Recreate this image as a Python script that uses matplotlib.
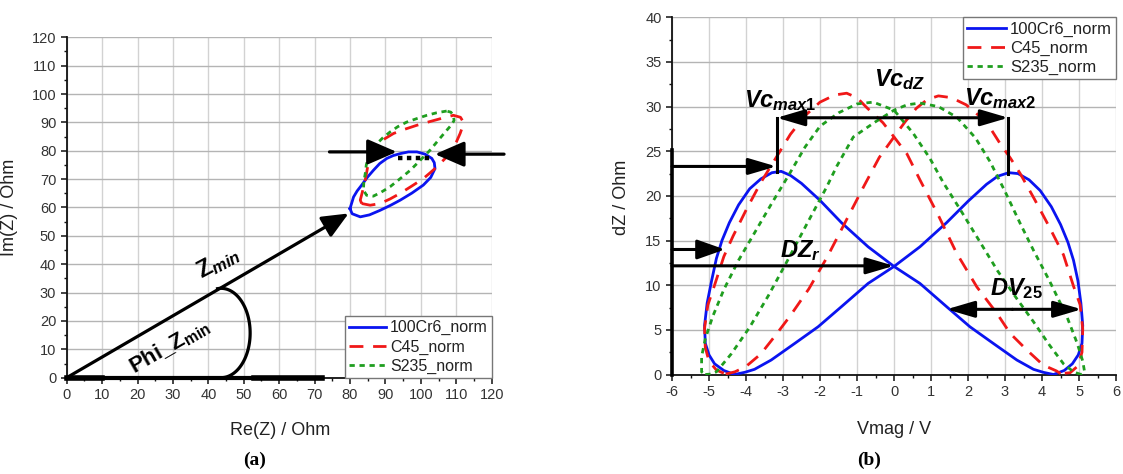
"""
Impedance loop (Nyquist) and butterfly dZ(Vmag) curves for three steels,
with the feature annotations used for the evaluation (Zmin, Phi_Zmin, Vc, DZr, DV25).
"""
import numpy as np
import matplotlib
matplotlib.use('Agg')
import matplotlib.pyplot as plt
from matplotlib.ticker import MultipleLocator

plt.rcParams['font.family'] = ['Liberation Sans', 'DejaVu Sans']
plt.rcParams['axes.unicode_minus'] = False
plt.rcParams['mathtext.fontset'] = 'custom'
plt.rcParams['mathtext.rm'] = 'Liberation Sans:bold'
plt.rcParams['mathtext.it'] = 'Liberation Sans:italic:bold'
plt.rcParams['mathtext.bf'] = 'Liberation Sans:bold'

LABELS = ['100Cr6_norm', 'C45_norm', 'S235_norm']
COLORS = ['#0a14f0', '#f01818', '#1f9e1f']
DASHES = [None, (5.0, 3.5), (1.9, 1.7)]

# --- (a) Re(Z) / Im(Z) loops -------------------------------------------------
re_100cr6 = [80.0, 80.6, 82.9, 85.5, 88.5, 91.5, 94.2, 97.5, 100.7, 102.8, 104.0, 103.8,
             103.1, 101.2, 98.9, 96.5, 94.2, 92.2, 90.4, 88.4, 86.6, 84.8, 83.3, 82.0, 81.0, 80.0]
im_100cr6 = [59.6, 57.8, 56.7, 57.4, 59.0, 60.8, 62.6, 65.1, 67.9, 70.6, 73.7, 75.8,
             77.3, 78.8, 79.6, 79.6, 79.0, 78.3, 77.3, 75.5, 73.1, 70.5, 67.9, 65.8, 63.7, 59.6]

re_c45 = [83.3, 82.9, 83.6, 84.3, 84.8, 85.2, 85.7, 87.1, 89.5, 92.3, 95.5, 98.9, 102.3, 105.5,
          109.2, 111.2, 112.0, 111.7, 111.1, 110.0, 108.8, 106.8, 104.5, 102.6, 100.7, 97.5,
          94.2, 91.3, 88.5, 85.7, 83.3]
im_c45 = [61.4, 62.6, 66.0, 69.6, 73.0, 76.1, 77.8, 81.3, 84.0, 86.1, 87.6, 89.0, 90.2, 91.3,
          92.5, 91.8, 90.1, 88.2, 86.1, 83.0, 80.2, 77.2, 74.3, 72.2, 70.2, 67.6,
          65.0, 63.0, 61.4, 60.8, 61.4]

re_s235 = [107.3, 104.5, 101.7, 99.0, 96.0, 93.5, 91.3, 89.3, 87.6, 86.2, 85.2, 84.6, 84.3, 83.9,
           83.8, 84.7, 86.6, 88.8, 91.3, 94.2, 97.0, 99.8, 102.6, 105.0, 107.3, 108.7, 109.4,
           109.2, 108.5, 107.3]
im_s235 = [94.0, 93.4, 92.5, 91.4, 90.1, 88.5, 86.6, 84.6, 82.5, 80.2, 77.8, 75.0, 71.9, 69.0,
           66.1, 64.3, 64.0, 65.4, 67.3, 70.2, 73.1, 76.6, 80.2, 83.8, 87.2, 89.2, 90.7,
           92.4, 93.6, 94.0]

# --- (b) dZ over Vmag, both sweep directions --------------------------------
v_100cr6_up = [-4.31, -4.03, -3.77, -3.32, -2.68, -2.05, -1.42, -0.70, 0.0, 0.70, 1.42, 2.0,
               2.5, 2.8, 3.1, 3.35, 3.65, 3.95, 4.25, 4.5, 4.7, 4.85, 4.97, 5.05, 5.1, 5.08,
               4.98, 4.82, 4.6, 4.31]
dz_100cr6_up = [0.0, 0.25, 0.58, 1.62, 3.49, 5.35, 7.6, 10.2, 12.1, 14.3, 17.0, 19.4,
                21.3, 22.2, 22.6, 22.5, 21.8, 20.6, 18.8, 16.8, 14.8, 12.8, 10.5, 8.0, 5.5, 3.5,
                2.2, 1.2, 0.45, 0.0]
v_100cr6_down = [4.31, 4.03, 3.77, 3.32, 2.68, 2.05, 1.42, 0.70, 0.0, -0.70, -1.42, -2.0,
                 -2.5, -2.8, -3.05, -3.3, -3.6, -3.9, -4.2, -4.45, -4.65, -4.8, -4.93, -5.05,
                 -5.12, -5.1, -5.0, -4.85, -4.6, -4.31]
dz_100cr6_down = [0.0, 0.25, 0.58, 1.62, 3.49, 5.35, 7.6, 10.2, 12.1, 14.3, 17.0, 19.5,
                  21.4, 22.3, 22.75, 22.6, 21.9, 20.8, 19.0, 17.0, 15.0, 13.0, 10.5, 8.0,
                  5.5, 3.5, 2.2, 1.2, 0.45, 0.0]

v_c45_up = [-4.55, -4.3, -4.0, -3.6, -3.2, -2.8, -2.3, -1.8, -1.3, -0.8, -0.4, 0.0, 0.3, 0.6,
            0.9, 1.2, 1.55, 1.95, 2.32, 2.6, 2.86, 3.15, 3.41, 3.8, 4.2, 4.58, 4.85, 5.03, 5.1,
            5.08, 4.98, 4.76, 4.5]
dz_c45_up = [0.05, 0.3, 0.9, 2.3, 4.4, 6.6, 9.6, 13.2, 17.2, 21.2, 24.3, 26.6, 28.3, 29.8,
             30.8, 31.2, 31.0, 30.2, 28.9, 27.6, 25.9, 24.2, 22.5, 19.6, 16.5, 13.4, 9.9, 7.8, 5.1,
             2.5, 1.0, 0.2, 0.1]
v_c45_down = [4.5, 4.39, 4.03, 3.59, 3.14, 2.78, 2.24, 1.69, 1.2, 0.70, 0.35, 0.0, -0.3, -0.74,
              -1.0, -1.28, -1.6, -2.0, -2.4, -2.8, -3.2, -3.6, -4.0, -4.35, -4.6, -4.85, -5.03,
              -5.12, -5.1, -5.0, -4.8, -4.55]
dz_c45_down = [0.1, 0.4, 1.06, 2.74, 4.6, 6.85, 9.8, 13.6, 17.8, 21.8, 24.7, 26.6, 28.2, 29.9,
               31.0, 31.5, 31.3, 30.5, 29.0, 26.9, 24.2, 21.5, 18.4, 15.5, 13.2, 10.0, 7.8,
               5.2, 3.0, 1.5, 0.5, 0.05]

v_s235_up = [-5.1, -4.95, -4.8, -4.4, -3.9, -3.4, -2.9, -2.35, -1.82, -1.55, -1.1, -0.5, 0.0,
             0.35, 0.7, 1.2, 1.7, 2.2, 2.6, 3.0, 3.4, 3.77, 4.2, 4.67, 4.95, 5.1, 5.15, 5.05]
dz_s235_up = [0.0, 0.05, 0.3, 2.3, 5.3, 8.8, 12.6, 16.9, 21.0, 23.3, 26.6, 28.3, 29.6,
              30.2, 30.4, 30.0, 28.8, 26.5, 23.8, 20.5, 17.0, 13.9, 10.5, 6.5, 3.5, 1.5, 0.3, 0.0]
v_s235_down = [5.05, 4.85, 4.58, 4.2, 3.77, 3.3, 2.8, 2.3, 1.8, 1.33, 0.97, 0.52, 0.0, -0.56,
               -1.0, -1.5, -2.0, -2.4, -2.85, -3.3, -3.75, -4.2, -4.6, -4.9, -5.1, -5.2, -5.2,
               -5.1]
dz_s235_down = [0.0, 0.3, 1.2, 3.3, 5.9, 8.6, 11.6, 15.0, 18.4, 21.5, 24.2, 27.0, 29.6, 30.5,
                30.3, 29.3, 27.8, 25.5, 22.3, 19.2, 16.0, 12.8, 9.5, 6.5, 4.0, 2.0, 0.3, 0.0]

loops_a = [(re_100cr6, im_100cr6), (re_c45, im_c45), (re_s235, im_s235)]
loops_b = [
    ((v_100cr6_up, dz_100cr6_up), (v_100cr6_down, dz_100cr6_down)),
    ((v_c45_up, dz_c45_up), (v_c45_down, dz_c45_down)),
    ((v_s235_up, dz_s235_up), (v_s235_down, dz_s235_down)),
]


def style_axes(ax, xmaj, xmin, ymaj, ymin):
    for side in ('top', 'right'):
        ax.spines[side].set_visible(False)
    for side in ('left', 'bottom'):
        ax.spines[side].set_linewidth(1.3)
        ax.spines[side].set_color('#111111')
    ax.xaxis.set_major_locator(MultipleLocator(xmaj))
    ax.xaxis.set_minor_locator(MultipleLocator(xmin))
    ax.yaxis.set_major_locator(MultipleLocator(ymaj))
    ax.yaxis.set_minor_locator(MultipleLocator(ymin))
    ax.tick_params(which='major', direction='out', length=4.5, width=1.1,
                   labelsize=10.5, colors='#111111', labelcolor='#333333', pad=3)
    ax.tick_params(which='minor', direction='out', length=2.5, width=1.0, colors='#111111')
    ax.xaxis.grid(True, which='major', color='#d2d2d2', lw=1.0)
    ax.yaxis.grid(True, which='major', color='#b4b4b4', lw=1.0)
    ax.set_axisbelow(True)


def arrow(ax, start, tip, style='-|>', hl=1.7, hw=0.5, lw=2.2):
    ax.annotate('', xy=tip, xytext=start, annotation_clip=False,
                arrowprops=dict(arrowstyle=f'{style},head_length={hl},head_width={hw}',
                                mutation_scale=10, lw=lw, color='black',
                                shrinkA=0, shrinkB=0))


def add_legend(ax, handles, loc, anchor, fontsize):
    leg = ax.legend(handles, LABELS, loc=loc, bbox_to_anchor=anchor, borderaxespad=0,
                    fontsize=fontsize, handlelength=2.3, handletextpad=0.25,
                    labelspacing=0.25, borderpad=0.25, fancybox=False, framealpha=1)
    leg.get_frame().set_edgecolor('#777777')
    leg.get_frame().set_linewidth(1.0)
    for t in leg.get_texts():
        t.set_color('#222222')


fig = plt.figure(figsize=(11.23, 4.74), dpi=100)
fig.patch.set_facecolor('white')

# ---------------- (a) ----------------
ax1 = fig.add_axes([0.0594, 0.2032, 0.3784, 0.7181])
style_axes(ax1, 10, 5, 10, 5)
ax1.set_xlim(0, 120)
ax1.set_ylim(0, 120)

handles = []
for (x, y), color, dash in zip(loops_a, COLORS, DASHES):
    line, = ax1.plot(x, y, color=color, lw=2.0, zorder=3)
    if dash:
        line.set_dashes(dash)
    handles.append(line)

# Zmin vector and phase arc
arrow(ax1, (0, 0), (79.6, 57.9), hl=1.6, hw=0.7, lw=2.3)
t = np.radians(np.linspace(97, -90, 80))
ax1.plot(43.6 + 8.2 * np.cos(t), 15.75 + 15.75 * np.sin(t), color='black', lw=2.3, zorder=4)
ax1.plot([0, 72], [0, 0], color='black', lw=3.0, clip_on=False, zorder=4)
ax1.plot([0, 10], [0, 0], color='black', lw=4.0, clip_on=False, zorder=4)
ax1.plot([53, 72], [0, 0], color='black', lw=4.0, clip_on=False, zorder=4)
ax1.text(42.8, 40.8, r'$\mathbf{Z}_{min}$', fontsize=17, rotation=28,
         ha='center', va='center', rotation_mode='anchor')
ax1.text(29.2, 10.9, r'$\mathbf{Phi\_Z}_{\mathbf{min}}$', fontsize=16, rotation=30,
         ha='center', va='center', rotation_mode='anchor')

# width of the loop at the top
arrow(ax1, (74.2, 79.6), (93.2, 79.6), hl=1.8, hw=0.78, lw=2.3)
arrow(ax1, (123.5, 78.8), (104.0, 78.8), hl=1.8, hw=0.78, lw=2.3)
ax1.plot([93.6, 103.0], [77.3, 77.3], color='black', lw=3.2, ls=(0, (1, 1)), zorder=5)

ax1.set_xlabel('Re(Z) / Ohm', fontsize=13, color='#222222')
ax1.set_ylabel('Im(Z) / Ohm', fontsize=13, color='#222222')
ax1.xaxis.set_label_coords(0.502, -0.129)
ax1.yaxis.set_label_coords(-0.1146, 0.501)
add_legend(ax1, handles, 'lower right', (1.0, 0.0), 11.5)

# ---------------- (b) ----------------
ax2 = fig.add_axes([0.5984, 0.2099, 0.3954, 0.7536])
style_axes(ax2, 1, 0.5, 5, 2.5)
ax2.set_xlim(-6, 6)
ax2.set_ylim(0, 40)

handles = []
for branches, color, dash in zip(loops_b, COLORS, DASHES):
    for x, y in branches:
        line, = ax2.plot(x, y, color=color, lw=2.0, zorder=3)
        if dash:
            line.set_dashes(dash)
    handles.append(line)

ax2.plot([-6, -6], [0, 25.1], color='black', lw=2.6, clip_on=False, zorder=5)
arrow(ax2, (-6, 23.3), (-3.18, 23.3))
arrow(ax2, (-6, 14.0), (-4.57, 14.0), hw=0.6)
arrow(ax2, (-6, 12.17), (0.0, 12.17))

# Vc_max1 / Vc_max2 distance
ax2.plot([-3.17, -3.17], [22.7, 28.75], color='black', lw=2.2, zorder=5)
ax2.plot([3.09, 3.09], [22.5, 28.75], color='black', lw=2.2, zorder=5)
arrow(ax2, (0.0, 28.75), (-3.17, 28.75))
arrow(ax2, (0.0, 28.75), (3.09, 28.75))

arrow(ax2, (3.2, 7.3), (1.42, 7.3))
arrow(ax2, (3.2, 7.3), (5.07, 7.3))

ax2.text(-3.08, 30.7, r'$Vc_{max1}$', fontsize=17, ha='center', va='center')
ax2.text(0.16, 33.0, r'$Vc_{dZ}$', fontsize=17, ha='center', va='center')
ax2.text(2.86, 30.9, r'$Vc_{max2}$', fontsize=17, ha='center', va='center')
ax2.text(-2.53, 13.9, r'$DZ_{r}$', fontsize=17, ha='center', va='center')
ax2.text(3.31, 9.65, r'$DV_{25}$', fontsize=17, ha='center', va='center')

ax2.set_xlabel('Vmag / V', fontsize=13, color='#222222')
ax2.set_ylabel('dZ / Ohm', fontsize=13, color='#222222')
ax2.xaxis.set_label_coords(0.5, -0.129)
ax2.yaxis.set_label_coords(-0.0946, 0.497)
add_legend(ax2, handles, 'upper right', (1.0, 1.0), 12)

fig.text(0.227, 0.0295, '(a)', fontsize=14, fontweight='bold', ha='center', va='center',
         family=['Liberation Serif', 'DejaVu Serif'])
fig.text(0.774, 0.0295, '(b)', fontsize=14, fontweight='bold', ha='center', va='center',
         family=['Liberation Serif', 'DejaVu Serif'])

fig.savefig('out.png', dpi=100, facecolor='white')
